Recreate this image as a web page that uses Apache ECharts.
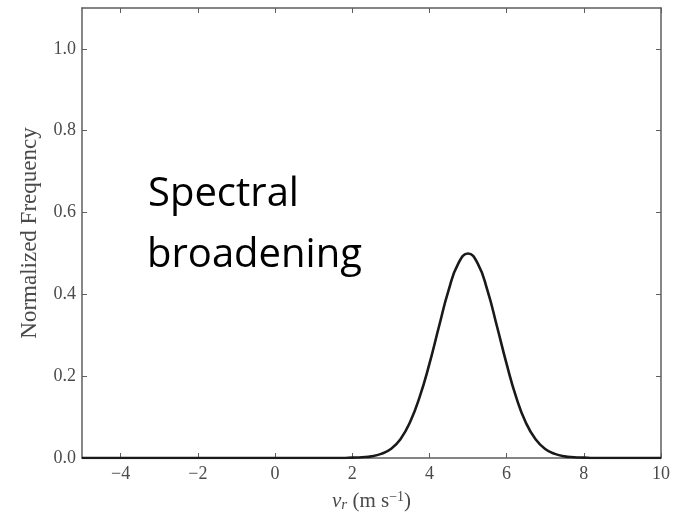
<!DOCTYPE html>
<html>
<head>
<meta charset="utf-8">
<style>
  html, body { margin: 0; padding: 0; background: #fff; }
  #chart { width: 679px; height: 513px; }
</style>
<script src="https://cdn.jsdelivr.net/npm/echarts@6/dist/echarts.min.js"></script>
</head>
<body>
<div id="chart"></div>
<script>
// Radial velocity (m/s) sample positions and the normalized frequency at each
const velocity = [-5, 1.5, 1.75, 2.0, 2.25, 2.5, 2.75, 3.0, 3.25, 3.5, 3.75, 4.0, 4.25, 4.5, 4.75,
                  5.0, 5.25, 5.5, 5.75, 6.0, 6.25, 6.5, 6.75, 7.0, 7.25, 7.5, 7.75, 8.0, 8.25, 8.5, 10];
const frequency = [0, 0, 0, 0.001, 0.002, 0.004, 0.010, 0.022, 0.046, 0.088, 0.150, 0.230, 0.322, 0.411, 0.476,
                   0.500, 0.476, 0.411, 0.322, 0.230, 0.148, 0.086, 0.046, 0.022, 0.010, 0.004, 0.002, 0.001, 0, 0, 0];

// Tick positions
const xTicks = [-4, -2, 0, 2, 4, 6, 8, 10];
const yTicks = [0, 0.2, 0.4, 0.6, 0.8, 1.0];

const annotationLines = ['Spectral', 'broadening'];

const frameColor = '#5e5e5e';
const labelColor = '#4a4a4a';
const serif = '"Liberation Serif", "DejaVu Serif", serif';

const chart = echarts.init(document.getElementById('chart'), null, { renderer: 'canvas' });

const fmtX = v => (v < 0 ? '\u2212' + Math.abs(v) : String(v));

const xBase = {
  type: 'value', min: -5, max: 10,
  axisLine: { show: true, onZero: false, lineStyle: { color: frameColor, width: 1.5 } },
  axisTick: { show: true, inside: true, length: 5, customValues: xTicks, lineStyle: { color: frameColor, width: 1 } },
  splitLine: { show: false }
};
const yBase = {
  type: 'value', min: 0, max: 1.1,
  axisLine: { show: true, onZero: false, lineStyle: { color: frameColor, width: 1.5 } },
  axisTick: { show: true, inside: true, length: 5, customValues: yTicks, lineStyle: { color: frameColor, width: 1 } },
  splitLine: { show: false }
};

chart.setOption({
  animation: false,
  backgroundColor: '#fff',
  grid: { left: 82, right: 18, top: 8, bottom: 55, containLabel: false, outerBoundsMode: 'none' },
  xAxis: [
    Object.assign({}, xBase, {
      position: 'bottom',
      axisLabel: { show: true, customValues: xTicks, formatter: fmtX, margin: 7,
                   color: labelColor, fontFamily: serif, fontSize: 18 },
      name: '{i|v}{s|r} (m s{p|\u22121})',
      nameLocation: 'middle',
      nameGap: 32,
      nameTextStyle: {
        color: labelColor, fontFamily: serif, fontSize: 21,
        rich: {
          i: { fontFamily: serif, fontStyle: 'italic', fontSize: 21, color: labelColor },
          s: { fontFamily: serif, fontStyle: 'italic', fontSize: 15, color: labelColor, padding: [7, 0, 0, 0] },
          p: { fontFamily: serif, fontSize: 14, color: labelColor, padding: [0, 0, 9, 0] }
        }
      }
    }),
    Object.assign({}, xBase, { position: 'top', axisLabel: { show: false } })
  ],
  yAxis: [
    Object.assign({}, yBase, {
      position: 'left',
      axisLabel: { show: true, customValues: yTicks, formatter: v => v.toFixed(1), margin: 6,
                   color: labelColor, fontFamily: serif, fontSize: 18 },
      name: 'Normalized Frequency',
      nameLocation: 'middle',
      nameGap: 41,
      nameTextStyle: { color: labelColor, fontFamily: serif, fontSize: 23 }
    }),
    Object.assign({}, yBase, { position: 'right', axisLabel: { show: false } })
  ],
  series: [{
    type: 'line',
    xAxisIndex: 0, yAxisIndex: 0,
    data: velocity.map((v, i) => [v, frequency[i]]),
    smooth: true,
    showSymbol: false,
    lineStyle: { color: '#1a1a1a', width: 2.6 },
    z: 5
  }],
  graphic: [
    { type: 'text', left: 148, top: 175, style: { text: annotationLines[0], fontFamily: '"Open Sans", sans-serif', fontSize: 40, fill: '#000' } },
    { type: 'text', left: 147, top: 236, style: { text: annotationLines[1], fontFamily: '"Open Sans", sans-serif', fontSize: 40, fill: '#000' } }
  ]
});
</script>
</body>
</html>
